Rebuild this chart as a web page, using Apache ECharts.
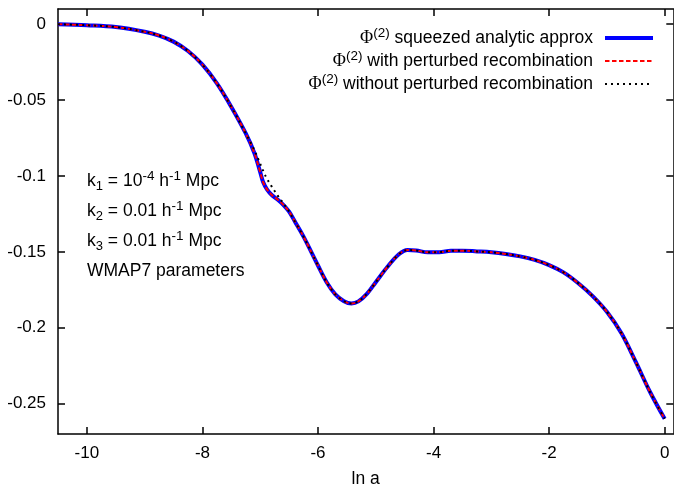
<!DOCTYPE html>
<html><head><meta charset="utf-8">
<script src="https://cdn.jsdelivr.net/npm/echarts@6/dist/echarts.min.js"></script>
<style>html,body{margin:0;padding:0;background:#fff}#c{width:674px;height:493px}</style>
</head><body><div id="c"></div>
<script>
// ---- data ----
const lnA = [-10.5, -10.0, -9.5, -9.0, -8.75, -8.5, -8.25, -8.0, -7.75, -7.5, -7.25, -7.1, -7.0, -6.95, -6.88, -6.8, -6.7, -6.6, -6.5, -6.4, -6.25, -6.0, -5.85, -5.7, -5.55, -5.42, -5.3, -5.15, -5.0, -4.8, -4.6, -4.45, -4.3, -4.1, -3.9, -3.7, -3.5, -3.25, -3.0, -2.75, -2.5, -2.25, -2.0, -1.75, -1.5, -1.25, -1.0, -0.75, -0.5, -0.25, 0.0];
const phiApprox = [0.0, -0.0007, -0.0019, -0.0050, -0.0075, -0.0115, -0.0177, -0.0267, -0.0390, -0.0545, -0.0720, -0.0850, -0.0975, -0.1040, -0.1090, -0.1125, -0.1155, -0.1190, -0.1235, -0.1300, -0.1400, -0.1590, -0.1700, -0.1780, -0.1825, -0.1840, -0.1826, -0.1775, -0.1700, -0.1600, -0.1516, -0.1488, -0.1491, -0.1503, -0.1502, -0.1493, -0.1492, -0.1497, -0.1503, -0.1514, -0.1530, -0.1553, -0.1587, -0.1635, -0.1705, -0.1790, -0.1895, -0.2035, -0.2225, -0.2425, -0.2600];
const phiWith = [0.0, -0.0007, -0.0019, -0.0050, -0.0075, -0.0115, -0.0177, -0.0267, -0.0390, -0.0545, -0.0720, -0.0850, -0.0975, -0.1040, -0.1090, -0.1125, -0.1155, -0.1190, -0.1235, -0.1300, -0.1400, -0.1590, -0.1700, -0.1780, -0.1825, -0.1840, -0.1826, -0.1775, -0.1700, -0.1600, -0.1516, -0.1488, -0.1491, -0.1503, -0.1502, -0.1493, -0.1492, -0.1497, -0.1503, -0.1514, -0.1530, -0.1553, -0.1587, -0.1635, -0.1705, -0.1790, -0.1895, -0.2035, -0.2225, -0.2425, -0.2600];
const phiWithout = [0.0, -0.0007, -0.0019, -0.0050, -0.0075, -0.0115, -0.0177, -0.0267, -0.0390, -0.0545, -0.0720, -0.0830, -0.0920, -0.0965, -0.1020, -0.1070, -0.1128, -0.1180, -0.1235, -0.1300, -0.1400, -0.1590, -0.1700, -0.1780, -0.1825, -0.1840, -0.1826, -0.1775, -0.1700, -0.1600, -0.1516, -0.1488, -0.1491, -0.1503, -0.1502, -0.1493, -0.1492, -0.1497, -0.1503, -0.1514, -0.1530, -0.1553, -0.1587, -0.1635, -0.1705, -0.1790, -0.1895, -0.2035, -0.2225, -0.2425, -0.2600];
const xTicks = [-10, -8, -6, -4, -2, 0];
const yTicks = [0, -0.05, -0.1, -0.15, -0.2, -0.25];
const seriesNames = ['squeezed analytic approx', 'with perturbed recombination', 'without perturbed recombination'];
const xName = 'ln a';

// ---- chart ----
const FONT = 'Liberation Sans';
const chart = echarts.init(document.getElementById('c'), null, {renderer: 'canvas'});
const pairs = ys => lnA.map((x, i) => [x, ys[i]]);
const tickStyle = {color: '#000', width: 1.5};
const lineAx = {show: true, onZero: false, lineStyle: {color: '#000', width: 1.5}};

const richBase = {
  t: {fontSize: 17.5, fontFamily: FONT, color: '#000', lineHeight: 24},
  phi: {fontSize: 18, fontFamily: 'Liberation Serif', color: '#000', lineHeight: 24},
  sup: {fontSize: 13.5, fontFamily: FONT, color: '#000', lineHeight: 12, verticalAlign: 'top'},
  sub: {fontSize: 13, fontFamily: FONT, color: '#000', lineHeight: 12, verticalAlign: 'bottom'}
};

const legendX = 593, lineX0 = 605, lineX1 = 653;
const legendY = [38, 61, 84];
const legendStyles = [
  {stroke: '#0000ff', lineWidth: 4, lineDash: null},
  {stroke: '#ff0000', lineWidth: 2, lineDash: [4.5, 2.5]},
  {stroke: '#000000', lineWidth: 2, lineDash: [2, 4]}
];
const graphics = [];
seriesNames.forEach((n, i) => {
  graphics.push({type: 'text', x: legendX, y: legendY[i], style: {
    text: '{phi|Φ}{sup|(2)}{t| ' + n + '}', rich: richBase, align: 'right', verticalAlign: 'middle'}});
  graphics.push({type: 'line', shape: {x1: lineX0, y1: legendY[i], x2: lineX1, y2: legendY[i]},
    style: Object.assign({fill: null}, legendStyles[i])});
});
const annot = [
  '{t|k}{sub|1}{t| = 10}{sup|-4}{t| h}{sup|-1}{t| Mpc}',
  '{t|k}{sub|2}{t| = 0.01 h}{sup|-1}{t| Mpc}',
  '{t|k}{sub|3}{t| = 0.01 h}{sup|-1}{t| Mpc}',
  '{t|WMAP7 parameters}'
];
const annotY = [181, 211, 241, 271.5];
annot.forEach((s, i) => {
  graphics.push({type: 'text', x: 87, y: annotY[i], style: {text: s, rich: richBase, align: 'left', verticalAlign: 'middle'}});
});

chart.setOption({
  animation: false,
  backgroundColor: '#fff',
  grid: {left: 58, top: 9, width: 615.3, height: 432.7, containLabel: false},
  xAxis: [
    {type: 'value', position: 'bottom', min: -10.5, max: 0.15, axisLine: lineAx,
     axisTick: {show: true, inside: true, length: 7, customValues: xTicks, lineStyle: tickStyle},
     axisLabel: {show: true, customValues: xTicks, margin: 11, fontSize: 17, fontFamily: FONT, color: '#000', formatter: v => String(v)},
     splitLine: {show: false}, name: xName, nameLocation: 'middle', nameGap: 36,
     nameTextStyle: {fontSize: 17.5, fontFamily: FONT, color: '#000'}},
    {type: 'value', position: 'top', min: -10.5, max: 0.15, axisLine: lineAx,
     axisTick: {show: true, inside: true, length: 7, customValues: xTicks, lineStyle: tickStyle},
     axisLabel: {show: false}, splitLine: {show: false}}
  ],
  yAxis: [
    {type: 'value', position: 'left', min: -0.27, max: 0.01, axisLine: lineAx,
     axisTick: {show: true, inside: true, length: 7, customValues: yTicks, lineStyle: tickStyle},
     axisLabel: {show: true, customValues: yTicks, margin: 12, fontSize: 17, fontFamily: FONT, color: '#000', padding: [3, 0, 0, 0], formatter: v => String(v)},
     splitLine: {show: false}},
    {type: 'value', position: 'right', min: -0.27, max: 0.01, axisLine: lineAx,
     axisTick: {show: true, inside: true, length: 7, customValues: yTicks, lineStyle: tickStyle},
     axisLabel: {show: false}, splitLine: {show: false}}
  ],
  series: [
    {name: seriesNames[0], type: 'line', data: pairs(phiApprox), showSymbol: false, smooth: 0.35,
     lineStyle: {color: '#0000ff', width: 4}, z: 2},
    {name: seriesNames[1], type: 'line', data: pairs(phiWith), showSymbol: false, smooth: 0.35,
     lineStyle: {color: '#ff0000', width: 2, type: [4.5, 2.5]}, z: 3},
    {name: seriesNames[2], type: 'line', data: pairs(phiWithout), showSymbol: false, smooth: 0.35,
     lineStyle: {color: '#000000', width: 2, type: [2, 4]}, z: 4}
  ],
  graphic: graphics
});
</script></body></html>
